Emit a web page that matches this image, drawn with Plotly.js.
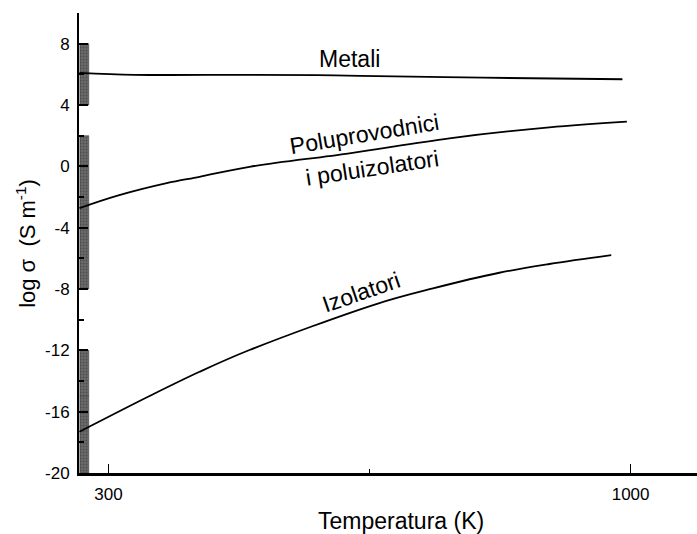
<!DOCTYPE html>
<html>
<head>
<meta charset="utf-8">
<script src="https://cdn.plot.ly/plotly-3.0.1.min.js"></script>
<style>html,body{margin:0;padding:0;background:#fff;}</style>
</head>
<body>
<div id="chart" style="width:697px;height:534px;"></div>
<script>
// Temperature (K) and log conductivity readings
const metalT = [261, 335, 489, 579, 637, 802, 989];
const metalLogS = [6.1, 5.97, 5.97, 5.95, 5.9, 5.78, 5.68];

const semiT = [261, 311, 378, 422, 489, 623, 757, 891, 995];
const semiLogS = [-2.72, -1.92, -1.09, -0.68, -0.03, 0.85, 1.83, 2.54, 2.91];

const insT = [261, 355, 422, 489, 659, 735, 824, 891, 974];
const insLogS = [-17.31, -14.98, -13.4, -11.98, -8.98, -7.96, -6.94, -6.37, -5.79];

// Conductivity ranges drawn as bars on the left side (base, top)
const rangeBase = [4, -8, -15, -20];
const rangeTop = [8, 2, -12, -15];
const rangeX = 267.5;

const yTickVals = [-20, -16, -12, -8, -4, 0, 4, 8];
const yTickText = ['-20', '-16', '-12', '-8', '-4', '0', '4', '8'];
const xTickVals = [300, 1000];
const xTickText = ['300', '1000'];
const xMinorTicks = [650];

const labels = [
  {text: 'Metali', x: 623, y: 7.0, angle: 0},
  {text: 'Poluprovodnici', x: 643, y: 2.1, angle: -9.5},
  {text: 'i poluizolatori', x: 653, y: -0.1, angle: -8.5},
  {text: 'Izolatori', x: 639, y: -8.2, angle: -19}
];

const xTitle = 'Temperatura (K)';
const yTitle = 'log σ  (S m<sup>-1</sup>)';

const FONT = 'Liberation Sans, Arial, sans-serif';
const lineStyle = {color: '#000', width: 1.8, shape: 'spline'};

const traces = [
  {
    type: 'bar',
    x: rangeBase.map(() => rangeX),
    y: rangeTop.map((t, i) => t - rangeBase[i]),
    base: rangeBase,
    width: rangeBase.map(() => 12),
    marker: {
      color: '#666',
      pattern: {shape: '.', bgcolor: '#6a6a6a', fgcolor: '#333', size: 3, solidity: 0.35, fillmode: 'overlay'},
      line: {color: '#333', width: 0.5}
    },
    hoverinfo: 'skip'
  },
  {type: 'scatter', mode: 'lines', x: metalT, y: metalLogS, line: lineStyle},
  {type: 'scatter', mode: 'lines', x: semiT, y: semiLogS, line: lineStyle},
  {type: 'scatter', mode: 'lines', x: insT, y: insLogS, line: lineStyle}
];

const annotations = labels.map(l => ({
  text: l.text, x: l.x, y: l.y, xref: 'x', yref: 'y',
  showarrow: false, textangle: l.angle,
  font: {family: FONT, size: 23, color: '#000'}
}));
annotations.push({
  text: xTitle, xref: 'paper', yref: 'paper', x: 0.521, y: -0.104,
  xanchor: 'center', yanchor: 'middle', showarrow: false,
  font: {family: FONT, size: 23, color: '#000'}
});
annotations.push({
  text: yTitle, xref: 'paper', yref: 'paper', x: -0.086, y: 0.5,
  xanchor: 'center', yanchor: 'middle', showarrow: false, textangle: -90,
  font: {family: FONT, size: 22, color: '#000'}
});

const layout = {
  width: 697,
  height: 534,
  margin: {l: 79, r: 0, t: 13, b: 61},
  paper_bgcolor: '#fff',
  plot_bgcolor: '#fff',
  showlegend: false,
  bargap: 0,
  font: {family: FONT, color: '#000', size: 17},
  xaxis: {
    range: [260.4, 1089],
    showgrid: false,
    zeroline: false,
    showline: true,
    linecolor: '#000',
    linewidth: 3,
    ticks: 'inside',
    ticklen: 9,
    tickwidth: 1.5,
    tickcolor: '#000',
    tickmode: 'array',
    tickvals: xTickVals,
    ticktext: xTickText,
    ticklabelstandoff: 4,
    minor: {tickmode: 'array', tickvals: xMinorTicks, ticks: 'inside', ticklen: 4, tickwidth: 1.5, tickcolor: '#000'},
    tickfont: {family: FONT, size: 17}
  },
  yaxis: {
    range: [-20, 10],
    showgrid: false,
    zeroline: false,
    showline: true,
    linecolor: '#000',
    linewidth: 2,
    ticks: 'inside',
    ticklen: 9,
    tickwidth: 2,
    tickcolor: '#000',
    tickmode: 'array',
    tickvals: yTickVals,
    ticktext: yTickText,
    ticklabelstandoff: 4,
    minor: {tick0: 0, dtick: 2, ticks: 'inside', ticklen: 5, tickwidth: 2, tickcolor: '#000'},
    tickfont: {family: FONT, size: 17}
  },
  annotations: annotations
};

Plotly.newPlot('chart', traces, layout, {displayModeBar: false, staticPlot: true});
</script>
</body>
</html>
